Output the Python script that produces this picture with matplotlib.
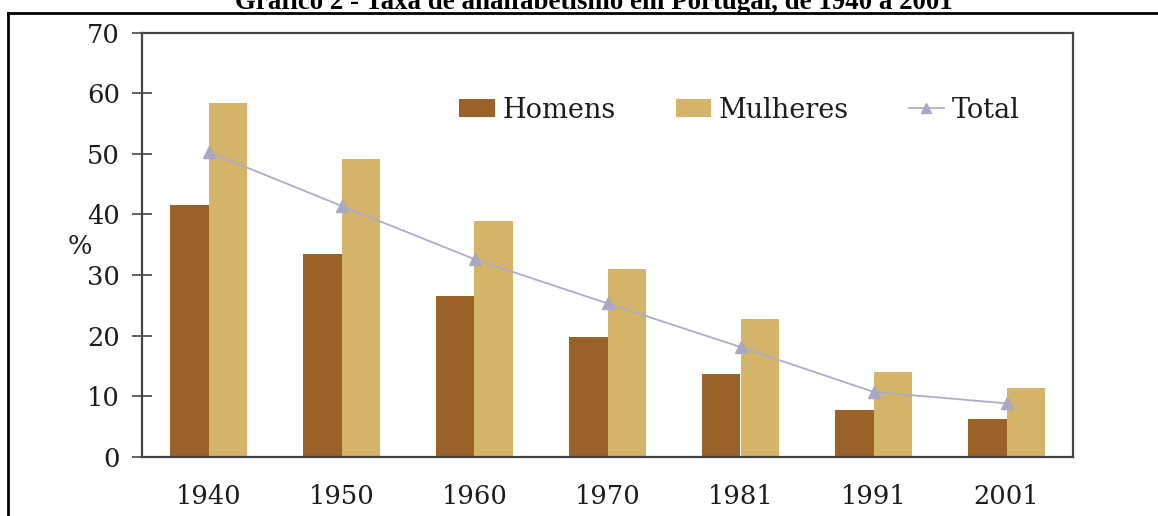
import matplotlib
matplotlib.use("Agg")
import matplotlib.pyplot as plt
import numpy as np
from matplotlib.patches import Patch
from matplotlib.lines import Line2D

years = ["1940", "1950", "1960", "1970", "1981", "1991", "2001"]
homens = [41.5, 33.4, 26.5, 19.7, 13.6, 7.7, 6.2]
mulheres = [58.3, 49.1, 38.9, 31.0, 22.8, 13.9, 11.3]
total = [50.3, 41.4, 32.6, 25.3, 18.1, 10.7, 8.8]
yticks = [0, 10, 20, 30, 40, 50, 60, 70]

c_h = "#9b6228"
c_m = "#d3b469"
c_t = "#aeacc4"
FS = 18.5
serif = ["DejaVu Serif"]
txt_c = "#1c1c1c"

fig = plt.figure(figsize=(11.58, 5.16), dpi=100)
ax = fig.add_axes([142/1158, 1-456.7/516, (1073-142)/1158, (456.7-32.6)/516])

x = np.arange(len(years))
w = 0.286
ax.bar(x - w/2, homens, width=w, color=c_h, zorder=2)
ax.bar(x + w/2, mulheres, width=w, color=c_m, zorder=2)
ax.plot(x, total, color=c_t, lw=1.3, marker="^", ms=8, mfc="#a9a7c2", mec="#a9a7c2", zorder=3)

ax.set_xlim(-0.5, len(years) - 0.5)
ax.set_ylim(0, 70)
ax.set_yticks(yticks)
ax.set_yticklabels([str(v) for v in yticks], fontsize=FS, family=serif, color=txt_c)
ax.set_xticks(x)
ax.set_xticklabels(years, fontsize=FS, family=serif, color=txt_c)
ax.tick_params(axis="y", direction="inout", length=14.4, width=1.2, color="#444444", pad=8.5)
ax.tick_params(axis="x", length=0, pad=20)
for s in ax.spines.values():
    s.set_color("#444444")
    s.set_linewidth(1.6)

fig.text(80/1158, 1-247/516, "%", fontsize=FS, family=serif, ha="center", va="center", color=txt_c)

handles = [Patch(facecolor=c_h, label="Homens"),
           Patch(facecolor=c_m, label="Mulheres"),
           Line2D([0], [0], color=c_t, lw=1.3, marker="^", ms=7, mfc="#a9a7c2", mec="#a9a7c2", label="Total")]
leg = ax.legend(handles=handles, ncol=3, loc="center", bbox_to_anchor=(0.642, 0.817),
                frameon=False, prop={"family": serif, "size": 19.5}, handlelength=1.3,
                handleheight=0.65, handletextpad=0.3, columnspacing=2.2)
for t in leg.get_texts():
    t.set_color(txt_c)

# outer frame (partial, as in the scanned figure)
fig.add_artist(Line2D([8/1158, 1.0], [1-13/516, 1-13/516], color="black", lw=2, transform=fig.transFigure))
fig.add_artist(Line2D([8/1158, 8/1158], [0, 1-13/516], color="black", lw=2, transform=fig.transFigure))

fig.text(594/1158, 1-9/516, "Gráfico 2 - Taxa de analfabetismo em Portugal, de 1940 a 2001",
         fontsize=19.4, family=["Liberation Serif"], fontweight="bold", ha="center", va="baseline")

fig.savefig("out.png", dpi=100)
